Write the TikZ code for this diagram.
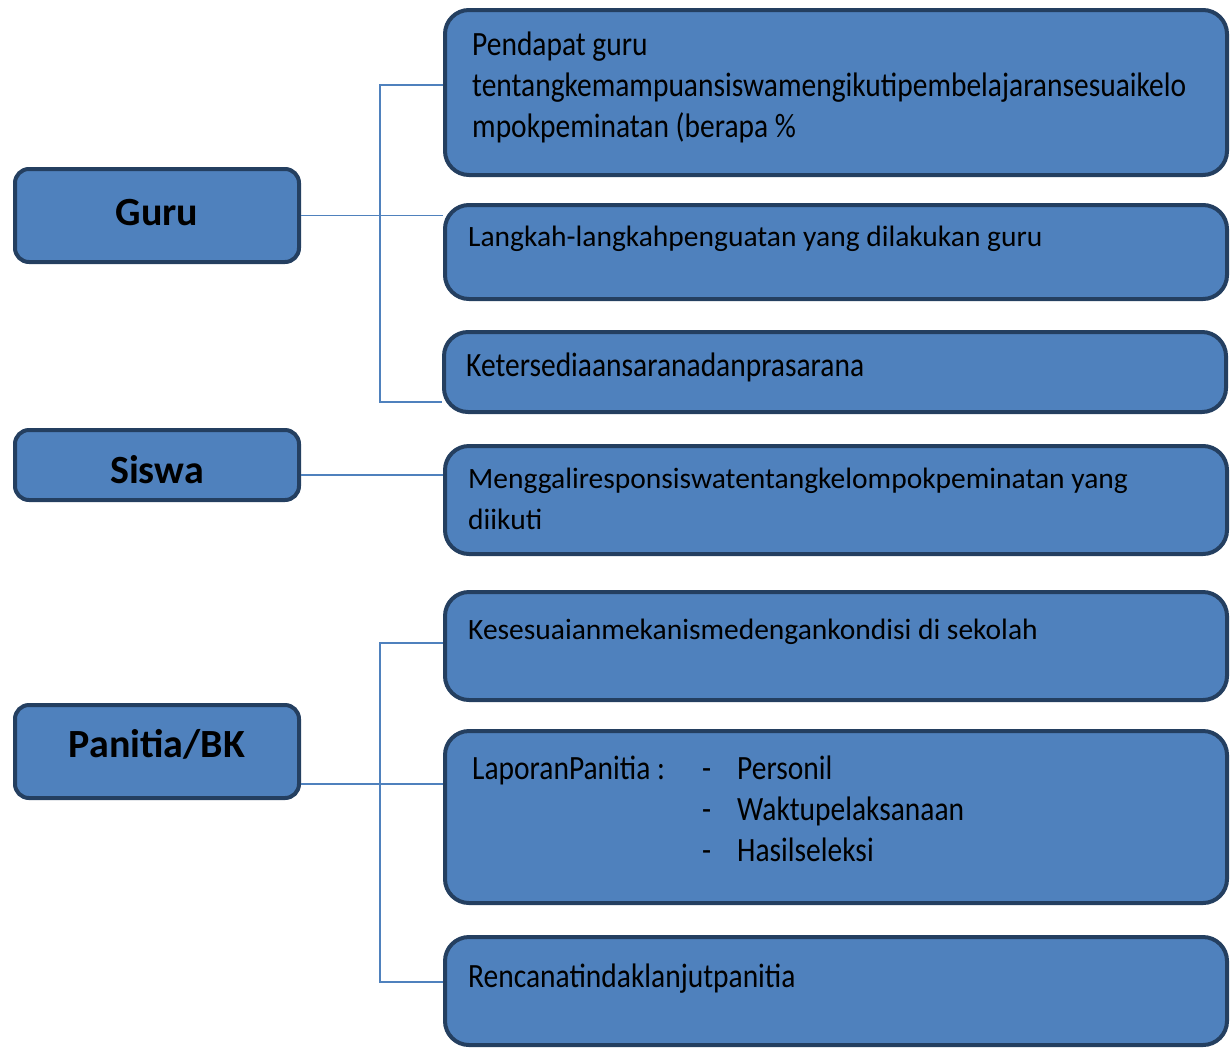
\documentclass[tikz,border=0pt]{standalone}
\usepackage{fontspec}
\setmainfont{Carlito}
\newfontfamily\narrowfont{Carlito}[FakeStretch=0.867]
\usetikzlibrary{positioning}

\definecolor{boxfill}{HTML}{4F81BD}
\definecolor{boxline}{HTML}{243F60}

\tikzset{
  headbox/.style={draw=boxline, fill=boxfill, line width=4pt, rounded corners=14pt,
    minimum width=284pt, font=\fontsize{40}{48}\selectfont\bfseries},
  itembox/.style={draw=boxline, fill=boxfill, line width=4pt, rounded corners=24pt,
    minimum width=782pt},
  itemtext/.style={anchor=north west, align=left, inner sep=0pt,
    font=\fontsize{29.5}{41}\selectfont},
  narrowtext/.style={itemtext, font=\narrowfont\fontsize{34}{41}\selectfont},
  link/.style={draw=boxfill, line width=1.5pt}
}

\begin{document}
\begin{tikzpicture}[x=1pt, y=-1pt]
  \clip (0,0) rectangle (1230,1047);

  % left column
  \node[headbox, minimum height=93pt] (guru) at (157,215.5) {\raisebox{3pt}[\height][\depth]{Guru}};
  \node[headbox, minimum height=70pt] (siswa) at (157,465) {\raisebox{-5pt}[\height][\depth]{Siswa}};
  \node[headbox, minimum height=93pt] (panitia) at (157,751.5) {\raisebox{7pt}[\height][\depth]{Panitia/BK}};

  % right column
  \node[itembox, minimum height=165pt] (pendapat) at (836,92.5) {};
  \node[itembox, minimum height=94pt] (langkah) at (836,252) {};
  \node[itembox, minimum height=80pt] (sarana) at (835,372) {};
  \node[itembox, minimum height=108pt] (respon) at (836,500) {};
  \node[itembox, minimum height=108pt] (mekanisme) at (836,646) {};
  \node[itembox, minimum height=172pt] (laporan) at (836,817) {};
  \node[itembox, minimum height=108pt] (rencana) at (836,991) {};

  % texts
  \node[narrowtext, below right=24pt and 29pt of pendapat.north west] (pendapattext)
    {Pendapat guru\\tentangkemampuansiswamengikutipembelajaransesuaikelo\\mpokpeminatan (berapa \%};
  \node[itemtext, below right=23pt and 25pt of langkah.north west] (langkahtext)
    {Langkah-langkahpenguatan yang dilakukan guru};
  \node[narrowtext, below right=23pt and 24pt of sarana.north west] (saranatext)
    {Ketersediaansaranadanprasarana};
  \node[itemtext, below right=24pt and 25pt of respon.north west] (respontext)
    {Menggaliresponsiswatentangkelompokpeminatan yang\\diikuti};
  \node[itemtext, below right=29pt and 25pt of mekanisme.north west] (mekanismetext)
    {Kesesuaianmekanismedengankondisi di sekolah};
  \node[narrowtext, below right=27pt and 29pt of laporan.north west] (laporantext)
    {\makebox[230pt][l]{LaporanPanitia :}\makebox[35pt][l]{-}Personil\\
     \hspace*{230pt}\makebox[35pt][l]{-}Waktupelaksanaan\\
     \hspace*{230pt}\makebox[35pt][l]{-}Hasilseleksi};
  \node[narrowtext, below right=29pt and 25pt of rencana.north west] (rencanatext)
    {Rencanatindaklanjutpanitia};

  % connectors
  \coordinate (gurutop) at (380,85);
  \coordinate (gurubot) at (380,402);
  \coordinate (siswamid) at (380,475);
  \coordinate (panitiatop) at (380,643);
  \coordinate (panitiamid) at (380,784);
  \coordinate (panitiabot) at (380,982);
  \draw[link] (guru.east) -- (guru.east -| langkah.west);
  \draw[link] (pendapat.west |- gurutop) -- (gurutop) -- (gurubot) -- (sarana.west |- gurubot);
  \draw[link] (siswa.east |- siswamid) -- (siswamid -| respon.west);
  \draw[link] (panitia.east |- panitiamid) -- (panitiamid -| laporan.west);
  \draw[link] (mekanisme.west |- panitiatop) -- (panitiatop) -- (panitiabot) -- (rencana.west |- panitiabot);
\end{tikzpicture}
\end{document}
